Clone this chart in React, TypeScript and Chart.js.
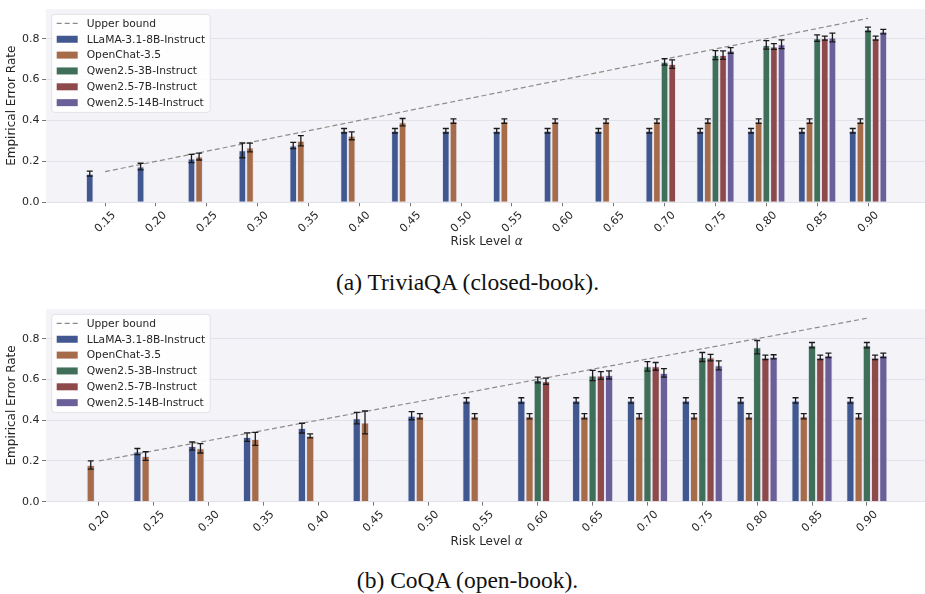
import React, { useEffect, useRef } from "react";
import { Chart, registerables } from "chart.js";

Chart.register(...registerables);
Chart.defaults.font.family = "'DejaVu Sans', sans-serif";
Chart.defaults.color = "#262626";

// ---- shared series info ----
const seriesNames = [
  "LLaMA-3.1-8B-Instruct",
  "OpenChat-3.5",
  "Qwen2.5-3B-Instruct",
  "Qwen2.5-7B-Instruct",
  "Qwen2.5-14B-Instruct",
];
const seriesColors = ["#41578f", "#a66b49", "#406f59", "#8e494a", "#6b5f9a"];
const yTicks = [0, 0.2, 0.4, 0.6, 0.8];

// ---- (a) TriviaQA (closed-book) ----
const triviaAlphas = [0.15, 0.2, 0.25, 0.3, 0.35, 0.4, 0.45, 0.5, 0.55, 0.6, 0.65, 0.7, 0.75, 0.8, 0.85, 0.9];
const triviaLlama = [0.14, 0.175, 0.214, 0.254, 0.278, 0.35, 0.35, 0.35, 0.35, 0.35, 0.35, 0.35, 0.35, 0.35, 0.35, 0.35];
const triviaLlamaErr = [0.012, 0.016, 0.02, 0.036, 0.015, 0.011, 0.011, 0.011, 0.011, 0.011, 0.011, 0.011, 0.011, 0.011, 0.011, 0.011];
const triviaOpenChat = [null, null, 0.224, 0.268, 0.301, 0.325, 0.392, 0.397, 0.397, 0.397, 0.397, 0.397, 0.397, 0.397, 0.397, 0.397];
const triviaOpenChatErr = [null, null, 0.017, 0.021, 0.025, 0.019, 0.018, 0.011, 0.011, 0.011, 0.011, 0.011, 0.011, 0.011, 0.011, 0.011];
const triviaQwen3 = [null, null, null, null, null, null, null, null, null, null, null, 0.687, 0.72, 0.77, 0.803, 0.846];
const triviaQwen3Err = [null, null, null, null, null, null, null, null, null, null, null, 0.016, 0.022, 0.021, 0.016, 0.011];
const triviaQwen7 = [null, null, null, null, null, null, null, null, null, null, null, 0.676, 0.72, 0.762, 0.803, 0.803];
const triviaQwen7Err = [null, null, null, null, null, null, null, null, null, null, null, 0.021, 0.021, 0.014, 0.01, 0.01];
const triviaQwen14 = [null, null, null, null, null, null, null, null, null, null, null, null, 0.743, 0.773, 0.806, 0.835];
const triviaQwen14Err = [null, null, null, null, null, null, null, null, null, null, null, null, 0.014, 0.021, 0.021, 0.011];
const triviaBoundX = [0.15, 0.9];
const triviaBoundY = [0.15, 0.9];

// ---- (b) CoQA (open-book) ----
const coqaAlphas = [0.2, 0.25, 0.3, 0.35, 0.4, 0.45, 0.5, 0.55, 0.6, 0.65, 0.7, 0.75, 0.8, 0.85, 0.9];
const coqaLlama = [null, 0.246, 0.273, 0.317, 0.361, 0.41, 0.422, 0.497, 0.497, 0.497, 0.497, 0.497, 0.497, 0.497, 0.497];
const coqaLlamaErr = [null, 0.015, 0.02, 0.021, 0.024, 0.028, 0.02, 0.013, 0.013, 0.013, 0.013, 0.013, 0.013, 0.013, 0.013];
const coqaOpenChat = [0.18, 0.224, 0.262, 0.308, 0.323, 0.389, 0.419, 0.419, 0.419, 0.419, 0.419, 0.419, 0.419, 0.419, 0.419];
const coqaOpenChatErr = [0.02, 0.021, 0.023, 0.032, 0.01, 0.056, 0.013, 0.013, 0.013, 0.013, 0.013, 0.013, 0.013, 0.013, 0.013];
const coqaQwen3 = [null, null, null, null, null, null, null, null, 0.597, 0.619, 0.664, 0.71, 0.758, 0.768, 0.768];
const coqaQwen3Err = [null, null, null, null, null, null, null, null, 0.014, 0.025, 0.023, 0.022, 0.033, 0.013, 0.013];
const coqaQwen7 = [null, null, null, null, null, null, null, null, 0.591, 0.619, 0.664, 0.707, 0.708, 0.708, 0.708];
const coqaQwen7Err = [null, null, null, null, null, null, null, null, 0.015, 0.019, 0.019, 0.016, 0.011, 0.011, 0.011];
const coqaQwen14 = [null, null, null, null, null, null, null, null, null, 0.622, 0.632, 0.669, 0.711, 0.718, 0.718];
const coqaQwen14Err = [null, null, null, null, null, null, null, null, null, 0.02, 0.021, 0.022, 0.01, 0.011, 0.011];
const coqaBoundX = [0.2, 0.9];
const coqaBoundY = [0.2, 0.9];

type Num = number | null;

// Plot background fill
const backgroundPlugin = {
  id: "plotBackground",
  beforeDraw(chart: any) {
    const { ctx, chartArea: a } = chart;
    ctx.save();
    ctx.fillStyle = "#f4f4f8";
    ctx.fillRect(a.left, a.top, a.right - a.left, a.bottom - a.top);
    ctx.restore();
  },
};

// Symmetric error bars with caps on top of each bar
const errorBarPlugin = {
  id: "errorBars",
  afterDatasetsDraw(chart: any) {
    const { ctx } = chart;
    const ys = chart.scales.y;
    ctx.save();
    ctx.strokeStyle = "#1a1a1a";
    ctx.lineWidth = 1.3;
    chart.data.datasets.forEach((ds: any, di: number) => {
      if (!ds.errors) return;
      const meta = chart.getDatasetMeta(di);
      meta.data.forEach((bar: any, i: number) => {
        const pt = ds.data[i];
        const e = ds.errors[i];
        if (pt == null || e == null) return;
        const y1 = ys.getPixelForValue(pt.y - e);
        const y2 = ys.getPixelForValue(pt.y + e);
        const x = bar.x;
        const cap = 3;
        ctx.beginPath();
        ctx.moveTo(x, y1);
        ctx.lineTo(x, y2);
        ctx.moveTo(x - cap, y1);
        ctx.lineTo(x + cap, y1);
        ctx.moveTo(x - cap, y2);
        ctx.lineTo(x + cap, y2);
        ctx.stroke();
      });
    });
    ctx.restore();
  },
};

// X-axis title with an italic alpha
const xTitlePlugin = {
  id: "xTitle",
  afterDraw(chart: any) {
    const { ctx } = chart;
    const xs = chart.scales.x;
    const main = "Risk Level ";
    const sym = "α";
    ctx.save();
    ctx.fillStyle = "#262626";
    ctx.textBaseline = "middle";
    ctx.textAlign = "left";
    const fMain = "12px 'DejaVu Sans', sans-serif";
    const fSym = "italic 12px 'DejaVu Sans', sans-serif";
    ctx.font = fMain;
    const w1 = ctx.measureText(main).width;
    ctx.font = fSym;
    const w2 = ctx.measureText(sym).width;
    const cx = (xs.left + xs.right) / 2 + 1;
    const cy = xs.bottom - 8.6;
    const x0 = cx - (w1 + w2) / 2;
    ctx.font = fMain;
    ctx.fillText(main, x0, cy);
    ctx.font = fSym;
    ctx.fillText(sym, x0 + w1, cy);
    ctx.restore();
  },
};

// Framed legend in the upper-left corner of the plot
const boxLegendPlugin = {
  id: "boxLegend",
  afterDraw(chart: any) {
    const { ctx, chartArea: a } = chart;
    const x0 = a.left + 5.7;
    const y0 = a.top + 5.3;
    const w = 158.5;
    const h = 98;
    const r = 3;
    ctx.save();
    ctx.beginPath();
    ctx.moveTo(x0 + r, y0);
    ctx.arcTo(x0 + w, y0, x0 + w, y0 + h, r);
    ctx.arcTo(x0 + w, y0 + h, x0, y0 + h, r);
    ctx.arcTo(x0, y0 + h, x0, y0, r);
    ctx.arcTo(x0, y0, x0 + w, y0, r);
    ctx.closePath();
    ctx.fillStyle = "rgba(255,255,255,0.85)";
    ctx.fill();
    ctx.strokeStyle = "#e2e2e6";
    ctx.lineWidth = 1;
    ctx.stroke();

    ctx.font = "10.7px 'DejaVu Sans', sans-serif";
    ctx.textBaseline = "middle";
    ctx.textAlign = "left";
    chart.data.datasets.forEach((ds: any, i: number) => {
      const cy = y0 + 9 + i * 15.85;
      if (ds.type === "line") {
        ctx.save();
        ctx.strokeStyle = ds.borderColor;
        ctx.lineWidth = 1.2;
        ctx.setLineDash(ds.borderDash);
        ctx.beginPath();
        ctx.moveTo(x0 + 5, cy);
        ctx.lineTo(x0 + 26, cy);
        ctx.stroke();
        ctx.restore();
      } else {
        ctx.fillStyle = ds.backgroundColor;
        ctx.fillRect(x0 + 5, cy - 3.5, 21, 7);
      }
      ctx.fillStyle = "#262626";
      ctx.fillText(ds.label, x0 + 35, cy + 0.5);
    });
    ctx.restore();
  },
};

function toPoints(xs: number[], ys: Num[]) {
  const pts: { x: number; y: number }[] = [];
  xs.forEach((x, i) => {
    const v = ys[i];
    if (v != null) pts.push({ x, y: v });
  });
  return pts;
}
function toErrors(ys: Num[], es: Num[]) {
  return es.filter((_, i) => ys[i] != null);
}

type PanelProps = {
  alphas: number[];
  values: Num[][];
  errors: Num[][];
  boundX: number[];
  boundY: number[];
  xMin: number;
  xMax: number;
  padTop: number;
  xAxisHeight: number;
  top: number;
};

function ErrorRatePanel(p: PanelProps) {
  const ref = useRef<HTMLCanvasElement | null>(null);
  useEffect(() => {
    if (!ref.current) return;
    const datasets: any[] = [
      {
        type: "line",
        label: "Upper bound",
        data: p.boundX.map((x, i) => ({ x, y: p.boundY[i] })),
        borderColor: "#8c8c8c",
        borderWidth: 1.2,
        borderDash: [5, 3],
        pointRadius: 0,
        fill: false,
      },
    ];
    seriesNames.forEach((name, k) => {
      datasets.push({
        type: "bar",
        label: name,
        data: toPoints(p.alphas, p.values[k]),
        errors: toErrors(p.values[k], p.errors[k]),
        backgroundColor: seriesColors[k],
        borderColor: "rgba(215,215,235,0.55)",
        borderWidth: 1,
        categoryPercentage: 0.75,
        barPercentage: 1.0,
      });
    });
    const chart = new Chart(ref.current, {
      type: "bar",
      data: { datasets },
      options: {
        animation: false,
        responsive: false,
        devicePixelRatio: 1,
        layout: { padding: { top: p.padTop, left: 0, right: 0, bottom: 0 } },
        plugins: { legend: { display: false }, tooltip: { enabled: false } },
        scales: {
          x: {
            type: "linear",
            min: p.xMin,
            max: p.xMax,
            offset: false,
            afterBuildTicks: (s: any) => {
              s.ticks = p.alphas.map((v) => ({ value: v }));
            },
            afterFit: (s: any) => {
              s.height = p.xAxisHeight;
            },
            ticks: {
              minRotation: 45,
              maxRotation: 45,
              autoSkip: false,
              labelOffset: 9,
              padding: 2.5,
              font: { size: 11 },
              color: "#262626",
              callback: (v: any) => Number(v).toFixed(2),
            },
            grid: {
              display: true,
              drawOnChartArea: false,
              drawTicks: true,
              tickLength: 4,
              tickColor: "#777",
              offset: false,
            },
            border: { display: false },
            title: { display: false },
          },
          y: {
            type: "linear",
            min: 0,
            max: 0.945,
            afterBuildTicks: (s: any) => {
              s.ticks = yTicks.map((v) => ({ value: v }));
            },
            afterFit: (s: any) => {
              s.width = 46;
            },
            ticks: {
              padding: 2.5,
              font: { size: 11 },
              color: "#262626",
              callback: (v: any) => Number(v).toFixed(1),
            },
            grid: {
              color: "#e2e2ea",
              lineWidth: 1,
              drawTicks: true,
              tickLength: 4,
              tickColor: "#777",
            },
            border: { display: false },
            title: {
              display: true,
              text: "Empirical Error Rate",
              font: { size: 12 },
              color: "#262626",
              padding: { top: 5, bottom: 0 },
            },
          },
        },
      } as any,
      plugins: [backgroundPlugin, errorBarPlugin, boxLegendPlugin, xTitlePlugin],
    });
    return () => chart.destroy();
  }, []);
  return (
    <canvas
      ref={ref}
      width={925}
      height={250}
      style={{ position: "absolute", left: 0, top: p.top, width: 925, height: 250 }}
    />
  );
}

const captionStyle = (top: number): React.CSSProperties => ({
  position: "absolute",
  left: 5,
  top,
  width: 925,
  textAlign: "center",
  fontFamily: "'Liberation Serif', 'Times New Roman', serif",
  fontSize: 23.5,
  lineHeight: "28px",
  color: "#111",
});

export default function App() {
  return (
    <div style={{ position: "absolute", left: 0, top: 0, width: 925, height: 594, background: "#fff", overflow: "hidden" }}>
      <ErrorRatePanel
        alphas={triviaAlphas}
        values={[triviaLlama, triviaOpenChat, triviaQwen3, triviaQwen7, triviaQwen14]}
        errors={[triviaLlamaErr, triviaOpenChatErr, triviaQwen3Err, triviaQwen7Err, triviaQwen14Err]}
        boundX={triviaBoundX}
        boundY={triviaBoundY}
        xMin={0.092}
        xMax={0.956}
        padTop={4}
        xAxisHeight={47.7}
        top={0}
      />
      <div style={captionStyle(267.7)}>(a) TriviaQA (closed-book).</div>
      <ErrorRatePanel
        alphas={coqaAlphas}
        values={[coqaLlama, coqaOpenChat, coqaQwen3, coqaQwen7, coqaQwen14]}
        errors={[coqaLlamaErr, coqaOpenChatErr, coqaQwen3Err, coqaQwen7Err, coqaQwen14Err]}
        boundX={coqaBoundX}
        boundY={coqaBoundY}
        xMin={0.1517}
        xMax={0.953}
        padTop={3.3}
        xAxisHeight={48.3}
        top={300}
      />
      <div style={captionStyle(566)}>(b) CoQA (open-book).</div>
    </div>
  );
}
